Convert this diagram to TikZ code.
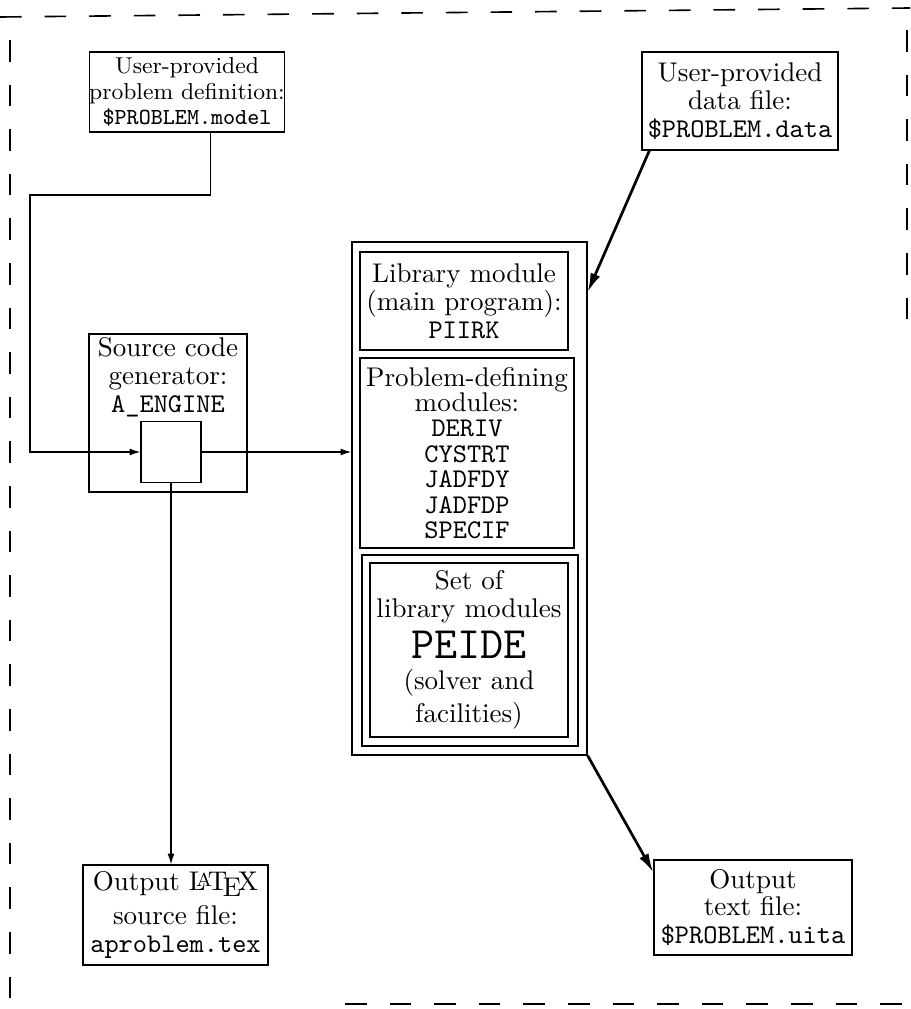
\documentclass[tikz,border=0pt]{standalone}
\usetikzlibrary{arrows.meta,calc}
\begin{document}
\begin{tikzpicture}[x=0.37pt,y=-0.37pt,
  box/.style={draw,line width=0.5pt,inner sep=0pt,align=center,font=\fontsize{10}{10.3}\selectfont},
  lbl/.style={inner sep=0pt,align=center,font=\fontsize{10}{10.3}\selectfont},
  thinarrow/.style={line width=0.45pt,-{Latex[length=4pt,width=2.6pt]}},
  thickarrow/.style={line width=1pt,-{Latex[length=7pt,width=3.8pt]}},
  border/.style={line width=0.6pt,dash pattern=on 8pt off 8.5pt}]
\useasboundingbox (0,0) rectangle (910,1009);
% dashed frame
\draw[border] (0,17) -- (910,8);
\draw[border] (10,40) -- (10,1009);
\draw[border] (907,30) -- (907,330);
\draw[border] (345,1004) -- (910,1004);
% top boxes
\node[box,font=\fontsize{8.5}{9.6}\selectfont,minimum width=188*0.37pt,minimum height=80*0.37pt] (model) at (187,92)
  {User-provided\\problem definition:\\\texttt{\$PROBLEM.model}};
\node[box,minimum width=196*0.37pt,minimum height=98*0.37pt] (data) at (740,101)
  {User-provided\\data file:\\\texttt{\$PROBLEM.data}};
% source code generator
\node[box,minimum width=158*0.37pt,minimum height=158*0.37pt] (gen) at (168,413) {};
\node[lbl] (genlbl) at (168,377) {Source code\\generator:\\\texttt{A\_ENGINE}};
\node[box,minimum width=60*0.37pt,minimum height=61*0.37pt] (sq) at (171,452) {};
% stack of modules
\node[box,minimum width=235*0.37pt,minimum height=513*0.37pt] (stack) at (469.5,498.5) {};
\node[box,minimum width=208*0.37pt,minimum height=98*0.37pt] (piirk) at (464,301)
  {Library module\\(main program):\\\texttt{PIIRK}};
\node[box,minimum width=214*0.37pt,minimum height=190*0.37pt,
  font=\fontsize{10}{9.4}\selectfont] (probdef) at (467,453)
  {Problem-defining\\modules:\\\texttt{DERIV}\\\texttt{CYSTRT}\\\texttt{JADFDY}\\\texttt{JADFDP}\\\texttt{SPECIF}};
\node[box,minimum width=216*0.37pt,minimum height=191*0.37pt] (peideout) at (470,650.5) {};
\node[box,minimum width=198*0.37pt,minimum height=174*0.37pt] (peide) at (469,650)
  {Set of\\library modules\\[2pt]{\fontsize{16.6}{16}\selectfont\texttt{PEIDE}}\\[1pt](solver and\\[2pt]facilities)};
% outputs
\node[box,minimum width=185*0.37pt,minimum height=100*0.37pt] (outtex) at (175.5,915)
  {Output \LaTeX\\[2pt]source file:\\\texttt{aproblem.tex}};
\node[box,minimum width=198*0.37pt,minimum height=95*0.37pt] (outtxt) at (753,907.5)
  {Output\\text file:\\\texttt{\$PROBLEM.uita}};
% connectors
\coordinate (c1) at (30,195);
\draw[thinarrow] ($(model.south west)+(122,0)$) |- (c1) |- (sq.west);
\draw[thinarrow] (sq.east) -- (sq.east -| stack.west);
\draw[thinarrow] (sq.south) -- (sq.south |- outtex.north);
\coordinate (t1) at (stack.east |- 0,292);
\draw[thickarrow] ($(data.south west)+(8,0)$) -- (t1);
\draw[thickarrow] (stack.south east) -- ($(outtxt.north west)+(0,13)$);
\end{tikzpicture}
\end{document}
